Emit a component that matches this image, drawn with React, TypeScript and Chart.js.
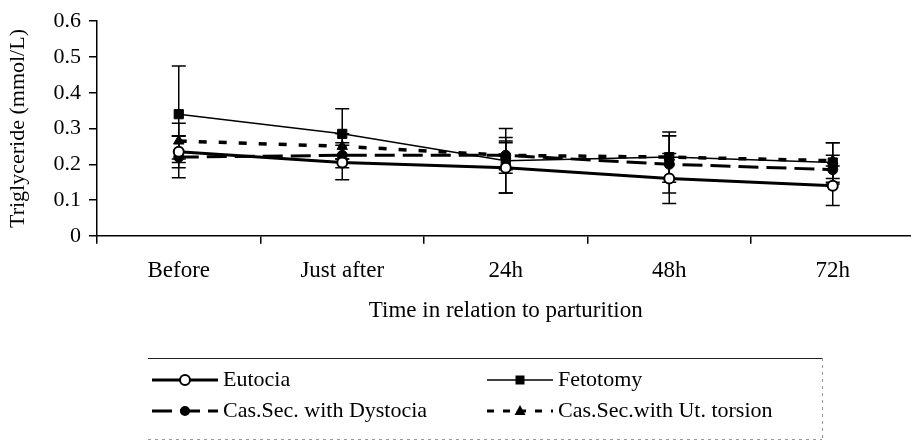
import React, { useEffect, useRef } from "react";
import { Chart, registerables } from "chart.js";

Chart.register(...registerables);

const categories = ["Before", "Just after", "24h", "48h", "72h"];

const seriesNames = [
  "Eutocia",
  "Fetotomy",
  "Cas.Sec. with Dystocia",
  "Cas.Sec.with Ut. torsion",
];

const eutocia = [0.235, 0.205, 0.19, 0.16, 0.14];
const eutociaErr = [0.045, 0.048, 0.07, 0.07, 0.055];

const fetotomy = [0.34, 0.285, 0.21, 0.22, 0.205];
const fetotomyErr = [0.135, 0.07, 0.09, 0.07, 0.055];

const dystocia = [0.22, 0.225, 0.225, 0.2, 0.185];
const dystociaErr = [0.058, 0.035, 0.04, 0.08, 0.04];

const utTorsion = [0.265, 0.25, 0.225, 0.22, 0.21];
const utTorsionErr = [0.05, 0.035, 0.05, 0.06, 0.05];

const yMin = 0;
const yMax = 0.6;
const yStep = 0.1;

const xTitle = "Time in relation to parturition";
const yTitle = "Triglyceride (mmol/L)";

const FONT = "'Liberation Serif', 'Times New Roman', serif";

function drawMarker(ctx: CanvasRenderingContext2D, kind: string, x: number, y: number) {
  ctx.save();
  ctx.setLineDash([]);
  ctx.strokeStyle = "#000";
  ctx.fillStyle = "#000";
  ctx.lineWidth = 2;
  ctx.beginPath();
  if (kind === "openCircle") {
    ctx.fillStyle = "#fff";
    ctx.arc(x, y, 5, 0, Math.PI * 2);
    ctx.fill();
    ctx.stroke();
  } else if (kind === "square") {
    ctx.rect(x - 4.5, y - 4.5, 9, 9);
    ctx.fill();
  } else if (kind === "circle") {
    ctx.arc(x, y, 5, 0, Math.PI * 2);
    ctx.fill();
  } else if (kind === "triangle") {
    ctx.moveTo(x, y - 6);
    ctx.lineTo(x + 5.5, y + 4);
    ctx.lineTo(x - 5.5, y + 4);
    ctx.closePath();
    ctx.fill();
  }
  ctx.restore();
}

const errorBarPlugin = {
  id: "errorBars",
  beforeDatasetsDraw(chart: any) {
    const ctx = chart.ctx as CanvasRenderingContext2D;
    const yScale = chart.scales.y;
    chart.data.datasets.forEach((ds: any, di: number) => {
      const meta = chart.getDatasetMeta(di);
      meta.data.forEach((pt: any, i: number) => {
        const v = ds.data[i];
        const e = ds.errors[i];
        const top = yScale.getPixelForValue(v + e);
        const bot = yScale.getPixelForValue(v - e);
        ctx.save();
        ctx.setLineDash([]);
        ctx.strokeStyle = "#000";
        ctx.lineWidth = 1.5;
        ctx.beginPath();
        ctx.moveTo(pt.x, top);
        ctx.lineTo(pt.x, bot);
        ctx.moveTo(pt.x - 7, top);
        ctx.lineTo(pt.x + 7, top);
        ctx.moveTo(pt.x - 7, bot);
        ctx.lineTo(pt.x + 7, bot);
        ctx.stroke();
        ctx.restore();
      });
    });
  },
};

const legendItems = [
  { dash: [] as number[], width: 3, marker: "openCircle", col: 0, row: 0 },
  { dash: [] as number[], width: 1.5, marker: "square", col: 1, row: 0 },
  { dash: [20, 8], width: 3, marker: "circle", col: 0, row: 1 },
  { dash: [7, 9], width: 3, marker: "triangle", col: 1, row: 1 },
];

const customLegendPlugin = {
  id: "customLegend",
  afterDraw(chart: any) {
    const ctx = chart.ctx as CanvasRenderingContext2D;
    const colX = [152, 487];
    const rowY = [380, 411];
    const sampleLen = 66;
    ctx.save();
    ctx.strokeStyle = "#222";
    ctx.lineWidth = 1;
    ctx.setLineDash([]);
    ctx.beginPath();
    ctx.moveTo(148, 358.5);
    ctx.lineTo(822, 358.5);
    ctx.stroke();
    ctx.strokeStyle = "#999";
    ctx.setLineDash([3, 4]);
    ctx.beginPath();
    ctx.moveTo(822.5, 358);
    ctx.lineTo(822.5, 441);
    ctx.stroke();
    ctx.beginPath();
    ctx.moveTo(148, 439.5);
    ctx.lineTo(822, 439.5);
    ctx.stroke();

    legendItems.forEach((it, i) => {
      const x0 = colX[it.col];
      const y = rowY[it.row];
      ctx.setLineDash(it.dash);
      ctx.strokeStyle = "#000";
      ctx.lineWidth = it.width;
      ctx.beginPath();
      ctx.moveTo(x0, y);
      ctx.lineTo(x0 + sampleLen, y);
      ctx.stroke();
      drawMarker(ctx, it.marker, x0 + sampleLen / 2, y);
      ctx.setLineDash([]);
      ctx.fillStyle = "#000";
      ctx.font = `22px ${FONT}`;
      ctx.textBaseline = "middle";
      ctx.textAlign = "left";
      ctx.fillText(seriesNames[i], x0 + sampleLen + 5, y);
    });
    ctx.restore();
  },
};

export default function App() {
  const canvasRef = useRef<HTMLCanvasElement | null>(null);

  useEffect(() => {
    if (!canvasRef.current) return;
    const chart = new Chart(canvasRef.current, {
      type: "line",
      data: {
        labels: categories,
        datasets: [
          {
            label: seriesNames[0],
            data: eutocia,
            errors: eutociaErr,
            borderColor: "#000",
            borderWidth: 3,
            pointStyle: "circle",
            pointRadius: 5,
            pointBackgroundColor: "#fff",
            pointBorderColor: "#000",
            pointBorderWidth: 2,
            tension: 0,
            fill: false,
          } as any,
          {
            label: seriesNames[1],
            data: fetotomy,
            errors: fetotomyErr,
            borderColor: "#000",
            borderWidth: 1.5,
            pointStyle: "rect",
            pointRadius: 6.5,
            pointBackgroundColor: "#000",
            pointBorderColor: "#000",
            pointBorderWidth: 1,
            tension: 0,
            fill: false,
          } as any,
          {
            label: seriesNames[2],
            data: dystocia,
            errors: dystociaErr,
            borderColor: "#000",
            borderWidth: 3,
            borderDash: [20, 8],
            pointStyle: "circle",
            pointRadius: 5,
            pointBackgroundColor: "#000",
            pointBorderColor: "#000",
            pointBorderWidth: 1,
            tension: 0,
            fill: false,
          } as any,
          {
            label: seriesNames[3],
            data: utTorsion,
            errors: utTorsionErr,
            borderColor: "#000",
            borderWidth: 3.5,
            borderDash: [8, 12],
            pointStyle: "triangle",
            pointRadius: 6,
            pointBackgroundColor: "#000",
            pointBorderColor: "#000",
            pointBorderWidth: 1,
            tension: 0,
            fill: false,
          } as any,
        ],
      },
      options: {
        responsive: false,
        animation: false,
        layout: { padding: { top: 19, bottom: 116, left: 0, right: 0 } },
        plugins: {
          legend: { display: false },
          tooltip: { enabled: false },
        },
        scales: {
          x: {
            type: "category",
            offset: true,
            grid: {
              display: true,
              drawOnChartArea: false,
              drawTicks: true,
              tickLength: 8,
              color: "#000",
              lineWidth: 1.5,
              offset: true,
            },
            border: { color: "#000", width: 1.5 },
            ticks: {
              color: "#000",
              font: { family: FONT, size: 23 },
              padding: 13,
              maxRotation: 0,
              autoSkip: false,
            },
            title: {
              display: true,
              text: xTitle,
              color: "#000",
              font: { family: FONT, size: 23 },
              padding: { top: 0, bottom: 0 },
            },
          },
          y: {
            min: yMin,
            max: yMax,
            grid: {
              drawOnChartArea: false,
              drawTicks: true,
              tickLength: 8,
              color: "#000",
              lineWidth: 1.5,
            },
            border: { color: "#000", width: 1.5 },
            ticks: {
              stepSize: yStep,
              color: "#000",
              font: { family: FONT, size: 22 },
              padding: 8,
            },
            title: {
              display: true,
              text: yTitle,
              color: "#000",
              font: { family: FONT, size: 22 },
              padding: { top: 5, bottom: 0 },
            },
            afterFit(scale: any) {
              scale.width = 97;
            },
          },
        },
      },
      plugins: [errorBarPlugin, customLegendPlugin],
    } as any);
    return () => chart.destroy();
  }, []);

  return (
    <div
      style={{
        position: "absolute",
        left: 0,
        top: 0,
        width: 911,
        height: 441,
        overflow: "hidden",
        background: "#fff",
      }}
    >
      <canvas ref={canvasRef} width={922} height={441} style={{ display: "block" }} />
    </div>
  );
}
